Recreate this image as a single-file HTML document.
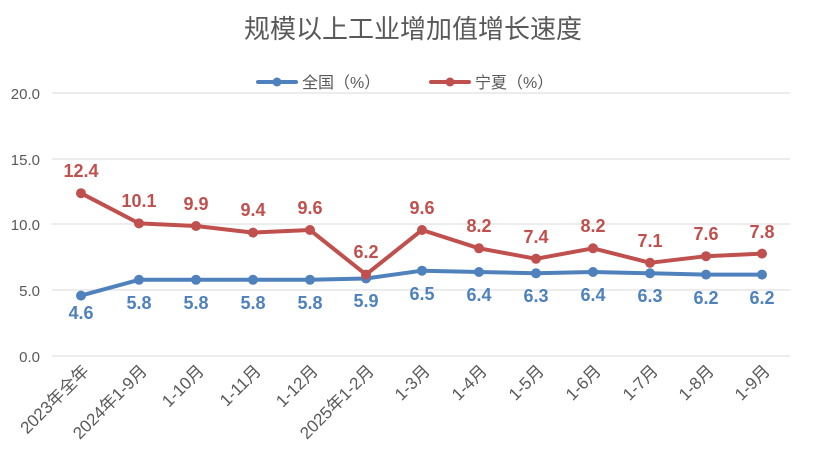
<!DOCTYPE html>
<html><head><meta charset="utf-8"><style>body{margin:0;background:#fff}svg{display:block}</style></head><body>
<svg width="827" height="474" xmlns="http://www.w3.org/2000/svg" font-family="'Liberation Sans','Noto Sans CJK SC',sans-serif">
<text x="413" y="38" text-anchor="middle" font-size="26" fill="#595959">规模以上工业增加值增长速度</text>
<g stroke="#d9d9d9" stroke-width="1">
<line x1="52" x2="790" y1="93" y2="93"/><line x1="52" x2="790" y1="159" y2="159"/><line x1="52" x2="790" y1="224" y2="224"/><line x1="52" x2="790" y1="290" y2="290"/><line x1="52" x2="790" y1="356" y2="356"/>
</g>
<g font-size="15" fill="#595959" text-anchor="end">
<text x="40" y="99">20.0</text><text x="40" y="165">15.0</text><text x="40" y="230">10.0</text><text x="40" y="296">5.0</text><text x="40" y="362">0.0</text>
</g>
<g stroke-width="4" stroke-linecap="round">
<line x1="258" x2="296" y1="82" y2="82" stroke="#4f81bd"/><circle cx="277" cy="82" r="4.5" fill="#4f81bd"/>
<line x1="431" x2="469" y1="82" y2="82" stroke="#c0504d"/><circle cx="450" cy="82" r="4.5" fill="#c0504d"/>
</g>
<text x="302" y="88" font-size="16" fill="#595959">全国（%）</text>
<text x="475" y="88" font-size="16" fill="#595959">宁夏（%）</text>

<polyline points="81,295.6 139,279.8 196,279.8 253,279.8 310,279.8 366,278.5 422,270.7 479,272 536,273.3 593,272 650,273.3 706,274.6 762,274.6" fill="none" stroke="#4f81bd" stroke-width="4" stroke-linejoin="round"/>
<g fill="#4f81bd">
<circle cx="81" cy="295.6" r="5"/><circle cx="139" cy="279.8" r="5"/><circle cx="196" cy="279.8" r="5"/><circle cx="253" cy="279.8" r="5"/><circle cx="310" cy="279.8" r="5"/><circle cx="366" cy="278.5" r="5"/><circle cx="422" cy="270.7" r="5"/><circle cx="479" cy="272" r="5"/><circle cx="536" cy="273.3" r="5"/><circle cx="593" cy="272" r="5"/><circle cx="650" cy="273.3" r="5"/><circle cx="706" cy="274.6" r="5"/><circle cx="762" cy="274.6" r="5"/>
</g>
<polyline points="81,193.2 139,223.4 196,226 253,232.6 310,230 366,274.6 422,230 479,248.3 536,258.8 593,248.3 650,262.8 706,256.2 762,253.6" fill="none" stroke="#c0504d" stroke-width="4" stroke-linejoin="round"/>
<g fill="#c0504d">
<circle cx="81" cy="193.2" r="5"/><circle cx="139" cy="223.4" r="5"/><circle cx="196" cy="226" r="5"/><circle cx="253" cy="232.6" r="5"/><circle cx="310" cy="230" r="5"/><circle cx="366" cy="274.6" r="5"/><circle cx="422" cy="230" r="5"/><circle cx="479" cy="248.3" r="5"/><circle cx="536" cy="258.8" r="5"/><circle cx="593" cy="248.3" r="5"/><circle cx="650" cy="262.8" r="5"/><circle cx="706" cy="256.2" r="5"/><circle cx="762" cy="253.6" r="5"/>
</g>
<g font-size="18" font-weight="bold" fill="#4f81bd" text-anchor="middle">
<text x="81" y="319">4.6</text><text x="139" y="309">5.8</text><text x="196" y="309">5.8</text><text x="253" y="309">5.8</text><text x="310" y="309">5.8</text><text x="366" y="307">5.9</text><text x="422" y="300">6.5</text><text x="479" y="301">6.4</text><text x="536" y="302">6.3</text><text x="593" y="301">6.4</text><text x="650" y="302">6.3</text><text x="706" y="304">6.2</text><text x="762" y="304">6.2</text>
</g>
<g font-size="18" font-weight="bold" fill="#c0504d" text-anchor="middle">
<text x="81" y="177">12.4</text><text x="139" y="207">10.1</text><text x="196" y="210">9.9</text><text x="253" y="216">9.4</text><text x="310" y="214">9.6</text><text x="366" y="258">6.2</text><text x="422" y="214">9.6</text><text x="479" y="232">8.2</text><text x="536" y="243">7.4</text><text x="593" y="232">8.2</text><text x="650" y="247">7.1</text><text x="706" y="240">7.6</text><text x="762" y="238">7.8</text>
</g>
<g font-size="17" fill="#595959" text-anchor="end">
<text transform="translate(90,372) rotate(-45)">2023年全年</text>
<text transform="translate(148,372) rotate(-45)">2024年1-9月</text>
<text transform="translate(205,372) rotate(-45)">1-10月</text>
<text transform="translate(262,372) rotate(-45)">1-11月</text>
<text transform="translate(319,372) rotate(-45)">1-12月</text>
<text transform="translate(375,372) rotate(-45)">2025年1-2月</text>
<text transform="translate(431,372) rotate(-45)">1-3月</text>
<text transform="translate(488,372) rotate(-45)">1-4月</text>
<text transform="translate(545,372) rotate(-45)">1-5月</text>
<text transform="translate(602,372) rotate(-45)">1-6月</text>
<text transform="translate(659,372) rotate(-45)">1-7月</text>
<text transform="translate(715,372) rotate(-45)">1-8月</text>
<text transform="translate(771,372) rotate(-45)">1-9月</text>
</g>
</svg>
</body></html>
